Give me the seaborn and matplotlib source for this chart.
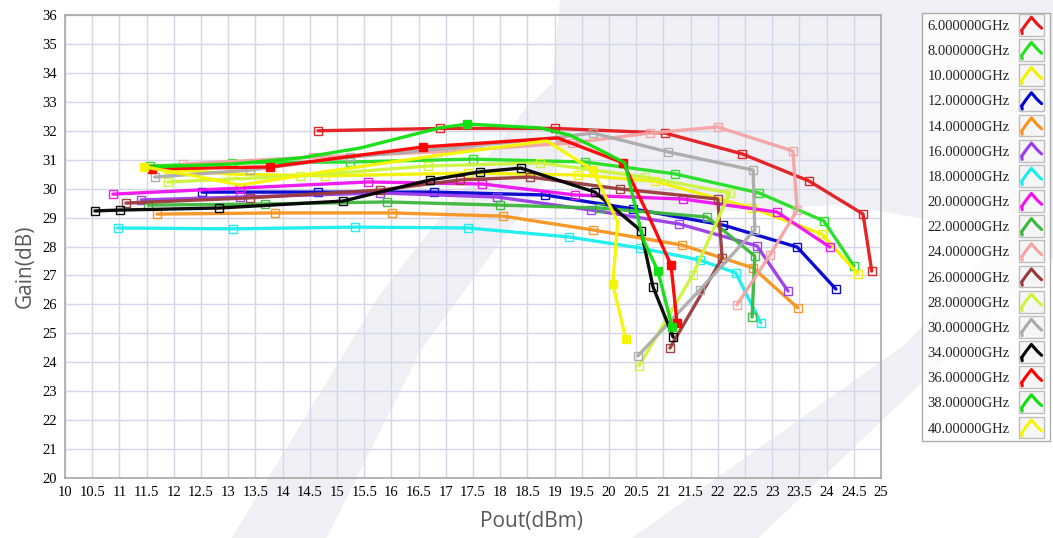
import numpy as np
import pandas as pd
import matplotlib
matplotlib.use("Agg")
import matplotlib.pyplot as plt
import seaborn as sns
from matplotlib.legend_handler import HandlerBase
from matplotlib.patches import Rectangle, Polygon
from matplotlib.lines import Line2D

# ---------------- data (Pout dBm, Gain dB) ----------------
freqs = ["6.000000GHz", "8.000000GHz", "10.00000GHz", "12.00000GHz", "14.00000GHz",
         "16.00000GHz", "18.00000GHz", "20.00000GHz", "22.00000GHz", "24.00000GHz",
         "26.00000GHz", "28.00000GHz", "30.00000GHz", "34.00000GHz", "36.00000GHz",
         "38.00000GHz", "40.00000GHz"]

pout_6 = [14.65, 16.89, 19.01, 21.03, 22.45, 23.68, 24.67, 24.83]
gain_6 = [32.00, 32.08, 32.08, 31.92, 31.20, 30.26, 29.12, 27.15]

pout_8 = [11.56, 13.07, 15.24, 17.50, 19.56, 21.21, 22.76, 23.95, 24.50]
gain_8 = [30.78, 30.89, 30.92, 31.02, 30.92, 30.51, 29.85, 28.88, 27.33]

pout_10 = [11.90, 13.07, 14.78, 17.41, 19.43, 20.84, 22.63, 23.91, 24.58]
gain_10 = [30.68, 30.50, 30.44, 30.54, 30.47, 30.26, 29.33, 28.43, 27.05]

pout_12 = [12.52, 14.65, 16.78, 18.82, 20.44, 22.10, 23.46, 24.17]
gain_12 = [29.88, 29.88, 29.88, 29.78, 29.30, 28.74, 27.98, 26.53]

pout_14 = [11.69, 13.86, 16.01, 18.05, 19.71, 21.34, 22.65, 23.47]
gain_14 = [29.12, 29.16, 29.16, 29.05, 28.57, 28.05, 27.26, 25.88]

pout_16 = [11.40, 13.22, 15.79, 17.94, 19.67, 21.29, 22.72, 23.29]
gain_16 = [29.61, 29.71, 29.85, 29.71, 29.26, 28.78, 28.02, 26.46]

pout_18 = [10.97, 13.09, 15.33, 17.41, 19.26, 20.57, 21.67, 22.33, 22.79]
gain_18 = [28.64, 28.61, 28.67, 28.64, 28.33, 27.95, 27.53, 27.09, 25.36]

pout_20 = [10.88, 13.22, 15.57, 17.67, 19.38, 21.36, 23.09, 24.06]
gain_20 = [29.81, 30.02, 30.23, 30.16, 29.78, 29.64, 29.19, 27.98]

pout_22 = [11.53, 13.68, 15.92, 18.00, 19.83, 21.80, 22.68, 22.63]
gain_22 = [29.43, 29.47, 29.54, 29.43, 29.33, 29.02, 27.67, 25.56]

pout_24 = [12.17, 14.56, 16.84, 19.32, 20.75, 22.00, 23.38, 23.46, 22.96, 22.35]
gain_24 = [30.85, 31.09, 31.27, 31.58, 31.92, 32.13, 31.30, 29.26, 27.71, 25.98]

pout_26 = [11.12, 13.40, 15.79, 17.26, 18.55, 20.20, 22.00, 22.08, 21.12]
gain_26 = [29.50, 29.68, 29.95, 30.30, 30.40, 29.99, 29.64, 27.60, 24.49]

pout_28 = [11.89, 14.32, 16.67, 18.73, 20.66, 22.22, 21.54, 20.55]
gain_28 = [30.23, 30.44, 30.78, 30.89, 30.40, 29.85, 27.02, 23.87]

pout_30 = [11.65, 13.40, 15.24, 17.08, 19.10, 19.71, 21.08, 22.65, 22.68, 21.67, 20.53]
gain_30 = [30.40, 30.64, 31.09, 31.40, 31.78, 31.92, 31.27, 30.64, 28.57, 26.50, 24.22]

pout_34 = [10.55, 11.01, 12.83, 15.11, 16.71, 17.63, 18.38, 19.74, 20.59, 20.81, 21.18]
gain_34 = [29.23, 29.26, 29.33, 29.57, 30.30, 30.58, 30.71, 29.88, 28.54, 26.60, 24.87]

pout_36 = [11.60, 13.77, 16.58, 19.06, 20.26, 20.72, 21.14, 21.25]
gain_36 = [30.68, 30.75, 31.44, 31.75, 30.89, 29.09, 27.36, 25.36]

pout_38 = [11.56, 13.07, 14.32, 15.42, 16.89, 17.39, 18.73, 19.28, 19.83, 20.29, 20.63, 20.90, 21.16]
gain_38 = [30.75, 30.85, 31.06, 31.40, 32.10, 32.23, 32.10, 31.85, 31.34, 30.89, 28.23, 27.15, 25.22]

pout_40 = [11.46, 12.30, 13.22, 14.69, 16.89, 18.86, 19.70, 20.16, 20.07, 20.31]
gain_40 = [30.75, 30.47, 30.12, 30.56, 31.16, 31.65, 30.64, 28.85, 26.70, 24.80]

pouts = [pout_6, pout_8, pout_10, pout_12, pout_14, pout_16, pout_18, pout_20, pout_22,
         pout_24, pout_26, pout_28, pout_30, pout_34, pout_36, pout_38, pout_40]
gains = [gain_6, gain_8, gain_10, gain_12, gain_14, gain_16, gain_18, gain_20, gain_22,
         gain_24, gain_26, gain_28, gain_30, gain_34, gain_36, gain_38, gain_40]

colors = ["#E41A1C", "#22E022", "#F2F200", "#0000D0", "#F7941D", "#9A3BEA", "#18EEEE",
          "#F010F0", "#3BB83B", "#F4A3A3", "#9A3A3A", "#CCF53A", "#ABABAB", "#000000",
          "#FF0000", "#10E010", "#F5F500"]
filled = ["36.00000GHz", "38.00000GHz", "40.00000GHz"]
filled_marks = {"36.00000GHz": [0, 1, 2, 4, 6, 7],
                "38.00000GHz": [5, 11, 12],
                "40.00000GHz": [0, 6, 8, 9]}

rows = []
for f, xs, ys in zip(freqs, pouts, gains):
    for i, (x, y) in enumerate(zip(xs, ys)):
        rows.append({"Freq": f, "order": i, "Pout": x, "Gain": y})
df = pd.DataFrame(rows)

# ---------------- figure ----------------
sns.set_theme(style="white")
plt.rcParams["font.family"] = ["DejaVu Sans"]

fig = plt.figure(figsize=(10.53, 5.38), dpi=100)
ax = fig.add_axes([65 / 1053, 1 - 478 / 538, (881 - 65) / 1053, (478 - 15) / 538])

# faint background watermark swoosh
wm_color = "#EFEFF4"
fig.patches.append(Polygon([(560 / 1053, 1), (1, 1), (1, 0.55), (0.80, 0.62), (0.62, 0.60),
                            (0.52, 0.75)], closed=True, transform=fig.transFigure,
                           fc=wm_color, ec="none", zorder=-5))
fig.patches.append(Polygon([(0.22, 0), (0.31, 0), (0.40, 0.35), (0.55, 0.75), (0.60, 0.98),
                            (0.50, 0.80), (0.36, 0.45)], closed=True, transform=fig.transFigure,
                           fc=wm_color, ec="none", zorder=-5))
fig.patches.append(Polygon([(0.60, 0), (0.72, 0), (1, 0.52), (1, 0.66), (0.86, 0.36)],
                           closed=True, transform=fig.transFigure,
                           fc=wm_color, ec="none", zorder=-5))
ax.set_facecolor("none")

palette = dict(zip(freqs, colors))
sns.lineplot(data=df, x="Pout", y="Gain", hue="Freq", style="Freq", hue_order=freqs,
             style_order=freqs, palette=palette, markers={f: "s" for f in freqs},
             dashes=False, sort=False, estimator=None, linewidth=2.4,
             markersize=6.0, ax=ax, legend=False)

for line, f, c in zip(ax.lines, freqs, colors):
    line.set_markeredgecolor(c)
    line.set_markeredgewidth(1.0)
    if f in filled:
        line.set_markerfacecolor(c)
        line.set_markersize(5.5)
        line.set_markevery(filled_marks[f])
    else:
        line.set_markerfacecolor("none")
    line.set_alpha(0.95)

ax.set_xlim(10, 25)
ax.set_ylim(20, 36)
xt = np.arange(10, 25.01, 0.5)
ax.set_xticks(xt)
ax.set_xticklabels([("%d" % v) if float(v).is_integer() else ("%.1f" % v) for v in xt])
ax.set_yticks(np.arange(20, 37, 1))
ax.grid(True, color="#D6D6EA", linewidth=1.0)
for s in ax.spines.values():
    s.set_color("#A8A8A8")
    s.set_linewidth(1.2)
ax.tick_params(axis="both", which="major", direction="out", length=4, width=1,
               color="#777777", labelsize=10.5, pad=2)
for lab in ax.get_xticklabels() + ax.get_yticklabels():
    lab.set_family("Liberation Serif")
    lab.set_color("black")

ax.set_xlabel("Pout(dBm)", fontsize=15, color="#595959", family="Open Sans")
ax.set_ylabel("Gain(dB)", fontsize=15, color="#595959", family="Open Sans")
ax.xaxis.set_label_coords((532 - 65) / 816, (478 - 521) / 463)
ax.yaxis.set_label_coords((25 - 65) / 816, (478 - 266) / 463)
ax.xaxis.label.set_va("center")
ax.yaxis.label.set_va("center")


# ---------------- legend with icon boxes ----------------
class IconHandler(HandlerBase):
    def create_artists(self, legend, orig_handle, xdescent, ydescent, width, height,
                       fontsize, trans):
        c = orig_handle.get_color()
        x0, y0 = -xdescent, -ydescent - 3.5
        w, h = width, height + 7
        rect = Rectangle((x0, y0), w, h, fc="#F6F6F6", ec="#BDBDBD", lw=1.0, transform=trans)
        xs = [x0 + 0.12 * w, x0 + 0.30 * w, x0 + 0.50 * w, x0 + 0.72 * w, x0 + 0.90 * w]
        ys = [y0 + 0.25 * h, y0 + 0.55 * h, y0 + 0.85 * h, y0 + 0.55 * h, y0 + 0.35 * h]
        ln = Line2D(xs, ys, color=c, lw=2.2, transform=trans)
        ln2 = Line2D([x0 + 0.12 * w, x0 + 0.14 * w], [y0 + 0.25 * h, y0 + 0.10 * h],
                     color=c, lw=2.2, transform=trans)
        return [rect, ln, ln2]


handles = [Line2D([], [], color=c) for c in colors]
leg = fig.legend(handles, freqs, loc="upper right", bbox_to_anchor=(1050 / 1053, 1 - 13 / 538),
                 borderaxespad=0, markerfirst=False, handler_map={Line2D: IconHandler()},
                 handlelength=1.75, handleheight=0.9, handletextpad=0.6, labelspacing=0.76,
                 frameon=True, fancybox=False, borderpad=0.4,
                 prop={"family": "Liberation Serif", "size": 10.5})
leg.get_frame().set_edgecolor("#9A9A9A")
leg.get_frame().set_linewidth(1.0)

fig.savefig("out.png", dpi=100)
